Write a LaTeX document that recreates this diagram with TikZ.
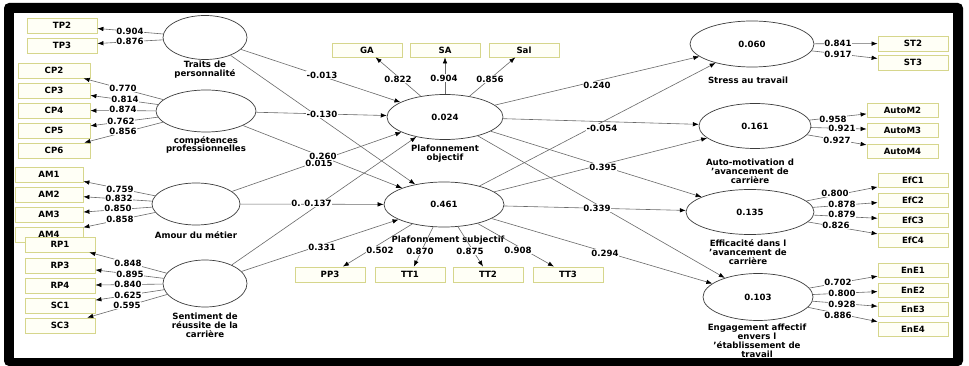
\documentclass[tikz,border=0pt]{standalone}
\usepackage{fontspec}
\setmainfont{DejaVu Sans}
\usetikzlibrary{shapes.geometric,arrows.meta}
\definecolor{boxdraw}{RGB}{214,214,140}
\definecolor{boxfill}{RGB}{255,255,246}
\definecolor{linec}{RGB}{105,105,105}
\definecolor{ellc}{RGB}{60,60,60}
\newcommand\fsz{\fontsize{8.6}{8.9}\selectfont\bfseries}
\tikzset{
  ind/.style={draw=boxdraw, fill=boxfill, line width=0.8pt, minimum width=70pt, minimum height=15pt, inner sep=0pt, font=\fsz},
  lat/.style={ellipse, draw=ellc, fill=white, line width=0.7pt, inner sep=0pt, font=\fsz},
  con/.style={draw=linec, line width=0.6pt, -{Latex[color=black,length=6pt,width=4.5pt]}},
  lbl/.style={fill=white, inner sep=0.4pt, font=\fsz},
  latname/.style={align=center, font=\fsz, inner sep=0pt},
}
\begin{document}
\begin{tikzpicture}[x=1pt,y=-1pt]
\useasboundingbox (0,0) rectangle (969,366);
% frame
\fill[black,rounded corners=5pt] (4,3) rectangle (963,366);
\fill[white] (14,13) rectangle (953,358);

% latent variables
\node[lat, minimum width=84pt, minimum height=44pt] (tp) at (205,37.5) {};
\node[lat, minimum width=100pt, minimum height=42pt] (cp) at (206,111) {};
\node[lat, minimum width=88pt, minimum height=42pt] (am) at (196,204) {};
\node[lat, minimum width=84pt, minimum height=47pt] (sr) at (205,283.5) {};
\node[lat, minimum width=116pt, minimum height=45pt] (po) at (445,117) {0.024};
\node[lat, minimum width=120pt, minimum height=45pt] (ps) at (444,204.5) {0.461};
\node[lat, minimum width=124pt, minimum height=46pt] (st) at (752,44) {0.060};
\node[lat, minimum width=112pt, minimum height=45pt] (au) at (755,126) {0.161};
\node[lat, minimum width=128pt, minimum height=45pt] (ef) at (750,212) {0.135};
\node[lat, minimum width=110pt, minimum height=47pt] (en) at (758,297) {0.103};

% latent names
\node[latname] (tpn) at (205,70) {Traits de\\personnalité};
\node[latname] (cpn) at (206,145) {compétences\\professionnelles};
\node[latname] (amn) at (196,235) {Amour du métier};
\node[latname] (srn) at (205,325) {Sentiment de\\réussite de la\\carrière};
\node[latname] (pon) at (445,153.5) {Plafonnement\\objectif};
\node[latname] (psn) at (448,240) {Plafonnement subjectif};
\node[latname] (stn) at (748,80) {Stress au travail};
\node[latname] (aun) at (750,171) {Auto-motivation d\\'avancement de\\carrière};
\node[latname] (efn) at (748,252) {Efficacité dans l\\'avancement de\\carrière};
\node[latname] (enn) at (757,340.5) {Engagement affectif\\envers l\\'établissement de\\travail};

% indicators
\node[ind] (tp2) at (62,25.5) {TP2};
\node[ind] (tp3) at (62,45.5) {TP3};
\foreach \n/\y in {CP2/70.5,CP3/90.5,CP4/110.5,CP5/130.5,CP6/150.5}
  \node[ind, minimum width=72pt] (\n) at (54,\y) {\n};
\foreach \n/\y in {AM1/174.5,AM2/194.5,AM3/214.5,AM4/234.5}
  \node[ind, minimum width=68pt] (\n) at (49,\y) {\n};
\foreach \n/\y in {RP1/244.5,RP3/265.5,RP4/285.5,SC1/305.5,SC3/325.5}
  \node[ind] (\n) at (60,\y) {\n};
\node[ind, minimum height=14pt] (GA) at (367,50) {GA};
\node[ind, minimum height=14pt] (SA) at (445,50) {SA};
\node[ind, minimum height=14pt] (Sal) at (524,50) {Sal};
\foreach \n/\x in {PP3/330,TT1/410,TT2/488,TT3/568}
  \node[ind] (\n) at (\x,274.5) {\n};
\node[ind] (ST2) at (913,43.5) {ST2};
\node[ind] (ST3) at (913,62.5) {ST3};
\foreach \n/\y in {AutoM2/110,AutoM3/130,AutoM4/151}
  \node[ind, minimum width=71pt, minimum height=14pt] (\n) at (902.5,\y) {\n};
\foreach \n/\y in {EfC1/180,EfC2/200,EfC3/220,EfC4/240}
  \node[ind, minimum height=14pt] (\n) at (913,\y) {\n};
\foreach \n/\y in {EnE1/270,EnE2/290,EnE3/309,EnE4/329}
  \node[ind, minimum height=14pt] (\n) at (913,\y) {\n};

% outer model connectors
\foreach \t in {tp2,tp3} \draw[con] (tp) -- (\t);
\foreach \t in {CP2,CP3,CP4,CP5,CP6} \draw[con] (cp) -- (\t);
\foreach \t in {AM1,AM2,AM3,AM4} \draw[con] (am) -- (\t);
\foreach \t in {RP1,RP3,RP4,SC1,SC3} \draw[con] (sr) -- (\t);
\foreach \t in {GA,SA,Sal} \draw[con] (po) -- (\t);
\foreach \t in {PP3,TT1,TT2,TT3} \draw[con] (ps) -- (\t);
\foreach \t in {ST2,ST3} \draw[con] (st) -- (\t);
\foreach \t in {AutoM2,AutoM3,AutoM4} \draw[con] (au) -- (\t);
\foreach \t in {EfC1,EfC2,EfC3,EfC4} \draw[con] (ef) -- (\t);
\foreach \t in {EnE1,EnE2,EnE3,EnE4} \draw[con] (en) -- (\t);

% structural connectors
\foreach \s in {tp,cp,am,sr} \foreach \t in {po,ps} \draw[con] (\s) -- (\t);
\foreach \s in {po,ps} \foreach \t in {st,au,ef,en} \draw[con] (\s) -- (\t);

% loadings
\node[lbl] (w1) at (130,31) {0.904};
\node[lbl] (w2) at (130,41) {0.876};
\node[lbl] (w3) at (123,88) {0.770};
\node[lbl] (w4) at (125,99) {0.814};
\node[lbl] (w5) at (123,109.5) {0.874};
\node[lbl] (w6) at (121,121) {0.762};
\node[lbl] (w7) at (123,131.5) {0.856};
\node[lbl] (w8) at (120,189) {0.759};
\node[lbl] (w9) at (119,198.5) {0.832};
\node[lbl] (w10) at (118,208.5) {0.850};
\node[lbl] (w11) at (120,219) {0.858};
\node[lbl] (w12) at (128,263) {0.848};
\node[lbl] (w13) at (130,274) {0.895};
\node[lbl] (w14) at (128,284.5) {0.840};
\node[lbl] (w15) at (128,295) {0.625};
\node[lbl] (w16) at (127,305.5) {0.595};
\node[lbl] (w17) at (398,79) {0.822};
\node[lbl] (w18) at (444,78) {0.904};
\node[lbl] (w19) at (490,79) {0.856};
\node[lbl] (w20) at (380,250) {0.502};
\node[lbl] (w21) at (420,251) {0.870};
\node[lbl] (w22) at (470,251) {0.875};
\node[lbl] (w23) at (518,250) {0.908};
\node[lbl] (w24) at (838,43) {0.841};
\node[lbl] (w25) at (838,54) {0.917};
\node[lbl] (w26) at (833,119) {0.958};
\node[lbl] (w27) at (842,128.5) {0.921};
\node[lbl] (w28) at (837,140) {0.927};
\node[lbl] (w29) at (835,193) {0.800};
\node[lbl] (w30) at (842,204) {0.878};
\node[lbl] (w31) at (842,214) {0.879};
\node[lbl] (w32) at (836,225) {0.826};
\node[lbl] (w33) at (838,282) {0.702};
\node[lbl] (w34) at (842,293) {0.800};
\node[lbl] (w35) at (842,304) {0.928};
\node[lbl] (w36) at (838,315) {0.886};

% path coefficients
\node[lbl] (c1) at (322,75) {-0.013};
\node[lbl] (c2) at (322,114.5) {-0.130};
\node[lbl] (c3) at (319,163) {0.015};
\node[lbl] (c4) at (323,156) {0.260};
\node[lbl] (c5) at (296,203.5) {0.};
\node[lbl] (c6) at (318,203.5) {0.137};
\node[lbl] (c7) at (322,247) {0.331};
\node[lbl] (c8) at (597,85) {0.240};
\node[lbl] (c9) at (602,128) {-0.054};
\node[lbl] (c10) at (603,167) {0.395};
\node[lbl] (c11) at (597,208) {0.339};
\node[lbl] (c12) at (605,253) {0.294};
\end{tikzpicture}
\end{document}
